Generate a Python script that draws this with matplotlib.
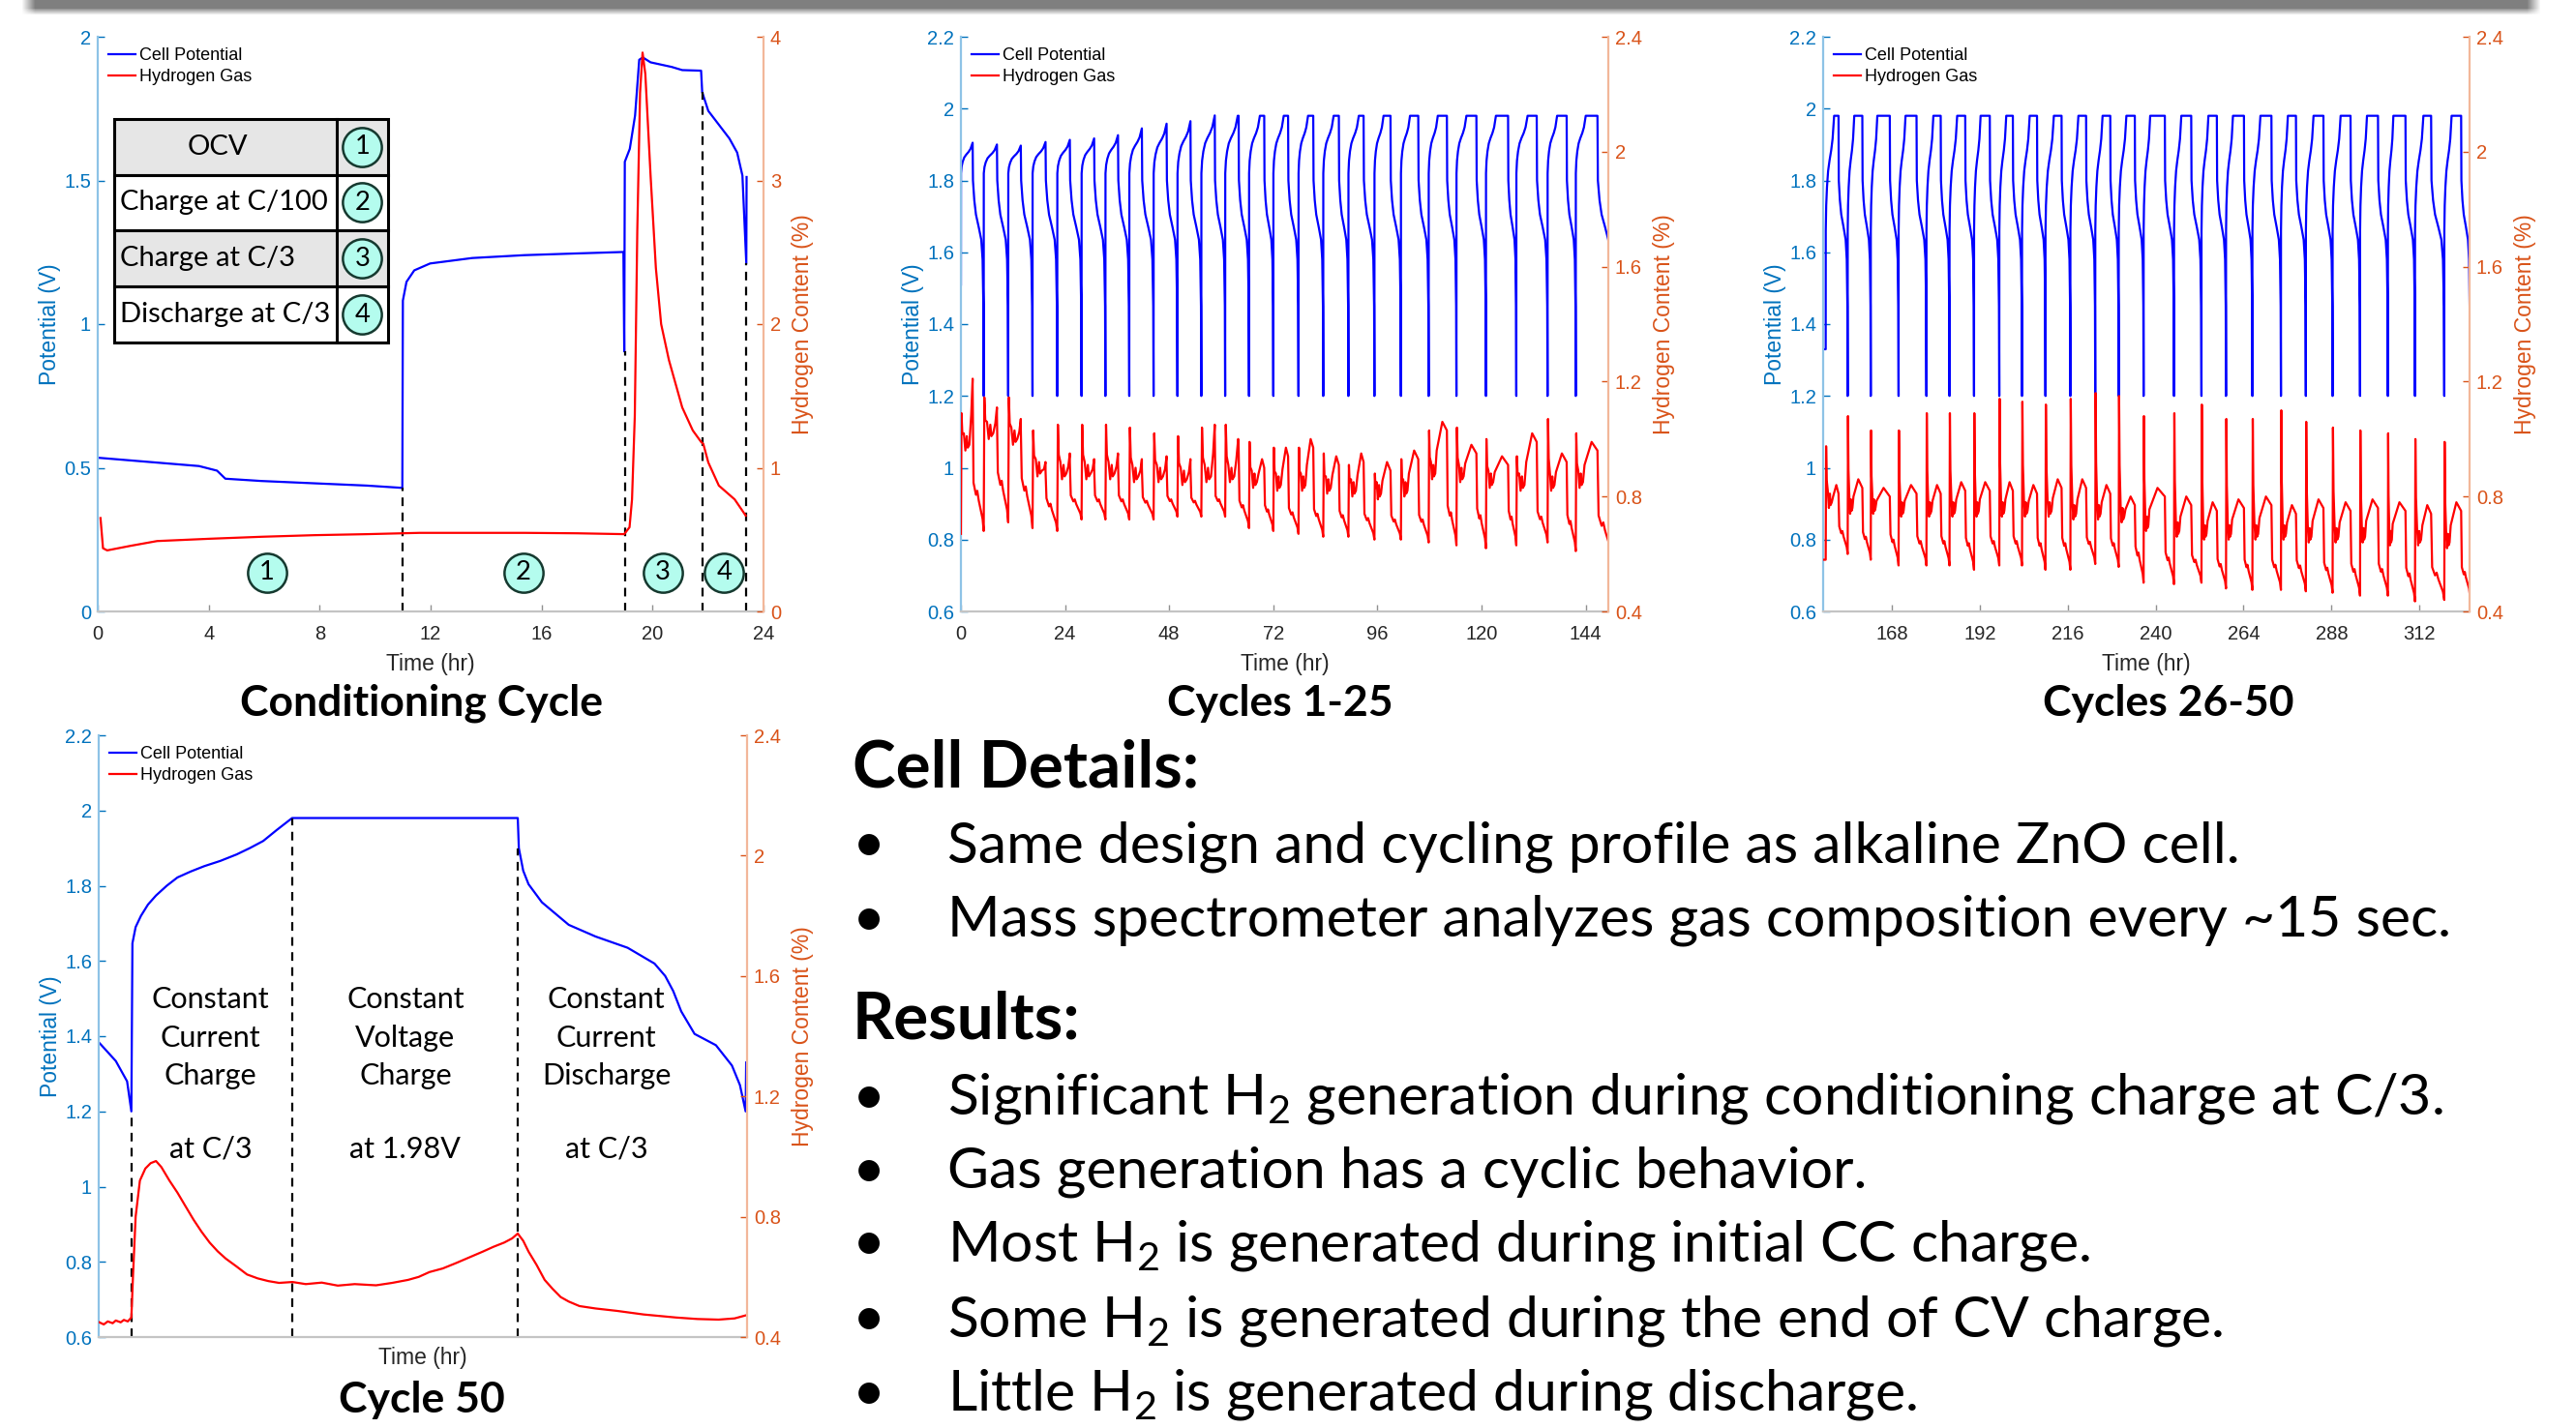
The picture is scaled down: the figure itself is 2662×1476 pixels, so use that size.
import numpy as np
import matplotlib
matplotlib.use('Agg')
import matplotlib.pyplot as plt
import matplotlib.font_manager as fm
from matplotlib.patches import Rectangle
from matplotlib.lines import Line2D

W, H = 2662, 1476
DPI = 100

avail = {f.name for f in fm.fontManager.ttflist}


def pick(*names):
    for n in names:
        if n in avail:
            return n
    return 'DejaVu Sans'


SLIDE_FONT = pick('Lato', 'Open Sans', 'Noto Sans')
AXIS_FONT = pick('Liberation Sans', 'Arial', 'DejaVu Sans')
plt.rcParams['font.family'] = [SLIDE_FONT, 'DejaVu Sans']
plt.rcParams['mathtext.default'] = 'regular'

BLUE = '#0000ff'
RED = '#ff0000'
LBLUE = '#0072bd'
ORANGE = '#d95319'
DIP_V = 1.2

# ---------------- conditioning cycle ----------------
cond_tv = [0, 2.14, 3.65, 4.3, 4.6, 5.9, 7.8, 9.7, 10.98, 11.0, 11.13, 11.41, 11.98,
           13.5, 15.39, 17.28, 18.95, 18.98, 19.0, 19.18, 19.37, 19.52, 19.65, 19.93,
           20.69, 21.07, 21.75, 21.79, 22.01, 22.77, 23.05, 23.24, 23.38, 23.39]
cond_v = [0.535, 0.518, 0.506, 0.49, 0.462, 0.454, 0.446, 0.438, 0.43, 1.082, 1.147,
          1.187, 1.211, 1.23, 1.24, 1.246, 1.251, 0.905, 1.565, 1.61, 1.726, 1.92, 1.928,
          1.911, 1.895, 1.884, 1.882, 1.807, 1.742, 1.646, 1.597, 1.517, 1.211, 1.512]
cond_th = [0.1, 0.19, 0.34, 1.19, 2.14, 4.03, 5.93, 7.82, 9.71, 11.6, 13.5, 15.39, 17.28,
           18.98, 19.17, 19.26, 19.36, 19.45, 19.55, 19.64, 19.74, 19.93, 20.12, 20.31,
           20.59, 21.07, 21.45, 21.75, 21.83, 22.01, 22.39, 22.96, 23.36]
cond_h = [0.65, 0.44, 0.425, 0.457, 0.49, 0.506, 0.52, 0.531, 0.538, 0.547, 0.547, 0.547,
          0.544, 0.538, 0.586, 0.78, 1.36, 2.65, 3.61, 3.89, 3.74, 3.03, 2.39, 2.0, 1.75,
          1.42, 1.26, 1.18, 1.166, 1.037, 0.876, 0.78, 0.667]
cond_steps = [11.0, 19.0, 21.79, 23.38]
cond_step_v = [0.43, 0.905, 1.807, 1.211]
cond_labels = ['1', '2', '3', '4']
cond_label_t = [6.1, 15.35, 20.37, 22.58]
table_rows = ['OCV', 'Charge at C/100', 'Charge at C/3', 'Discharge at C/3']

# ---------------- cycles 1-25 ----------------
c1_start = [0, 5.25, 10.9, 16.5, 22.2, 27.8, 33.3, 38.8, 44.4, 49.9, 55.4, 60.9, 66.4,
            72.0, 77.8, 83.5, 89.3, 95.3, 101.4, 107.8, 114.2, 121.0, 128.0, 135.2, 141.7]
c1_cv_on = [2.7, 8.3, 13.8, 19.5, 25.1, 30.7, 36.2, 41.7, 47.4, 52.9, 58.5, 63.8, 68.9,
            74.4, 80.0, 85.9, 91.7, 97.4, 103.5, 109.9, 116.5, 123.3, 130.6, 137.4, 144.0]
c1_cv_off = [2.7, 8.3, 13.8, 19.5, 25.1, 30.7, 36.2, 41.7, 47.4, 52.9, 58.5, 64.0, 69.9,
             75.4, 81.2, 87.1, 92.8, 99.0, 105.4, 112.0, 118.8, 126.1, 132.7, 139.6, 146.7]
c1_vpk = [1.905, 1.90, 1.897, 1.907, 1.913, 1.917, 1.926, 1.945, 1.958, 1.965, 1.981, 1.98,
          1.98, 1.98, 1.98, 1.98, 1.98, 1.98, 1.98, 1.98, 1.98, 1.98, 1.98, 1.98, 1.98]
c1_hpk = [1.09, 1.145, 1.145, 1.03, 1.05, 1.05, 1.05, 1.04, 1.02, 1.01, 1.04, 1.05, 0.99,
          0.97, 0.97, 0.95, 0.91, 0.88, 0.93, 1.03, 1.04, 1.00, 0.94, 1.07, 1.02]
c1_hmid = [0.96, 1.00, 0.98, 0.87, 0.86, 0.86, 0.86, 0.85, 0.85, 0.84, 0.85, 0.85, 0.83,
           0.82, 0.82, 0.81, 0.80, 0.79, 0.80, 0.86, 0.85, 0.83, 0.82, 0.82, 0.83]
c1_hbump = [1.21, 1.11, 1.07, 0.92, 0.95, 0.93, 0.95, 0.93, 0.94, 0.93, 1.05, 1.00, 0.93,
            0.97, 1.00, 0.94, 0.95, 0.92, 0.96, 1.06, 0.98, 0.94, 1.02, 0.95, 0.99]
c1_hmin = [0.68, 0.71, 0.69, 0.68, 0.72, 0.72, 0.72, 0.72, 0.73, 0.73, 0.73, 0.69, 0.68,
           0.67, 0.66, 0.66, 0.65, 0.65, 0.64, 0.63, 0.62, 0.63, 0.64, 0.61, 0.59]

# ---------------- cycles 26-50 ----------------
c2_start = [149.9, 155.9, 162.2, 169.8, 177.4, 183.7, 190.4, 197.3, 203.5, 209.9, 216.7,
            223.5, 229.9, 236.7, 245.0, 252.5, 259.2, 266.4, 274.2, 281.0, 288.3, 295.8,
            303.4, 310.8, 318.8]
c2_cv_on = [152.2, 157.7, 164.0, 171.7, 179.3, 185.8, 192.2, 199.2, 205.6, 212.2, 218.9,
            225.5, 232.0, 238.5, 247.0, 254.4, 261.1, 268.6, 276.1, 283.1, 290.5, 297.7,
            304.9, 313.1, 320.8]
c2_cv_off = [153.4, 159.9, 167.4, 174.7, 181.3, 188.0, 194.7, 201.0, 207.6, 214.3, 221.0,
             227.6, 234.3, 242.5, 249.7, 256.7, 264.1, 271.6, 278.3, 285.8, 293.2, 300.7,
             308.2, 315.2, 323.4]
c2_vpk = [1.98] * 25
c2_hpk = [0.975, 1.08, 1.03, 1.03, 1.09, 1.09, 1.09, 1.14, 1.13, 1.12, 1.14, 1.16, 1.15,
          1.08, 1.09, 1.12, 1.07, 1.07, 1.10, 1.06, 1.04, 1.03, 1.02, 1.00, 0.99]
c2_hmid = [0.76, 0.74, 0.74, 0.73, 0.73, 0.73, 0.73, 0.73, 0.73, 0.73, 0.72, 0.72, 0.71,
           0.68, 0.66, 0.65, 0.65, 0.65, 0.65, 0.64, 0.64, 0.64, 0.63, 0.63, 0.62]
c2_hbump = [0.84, 0.86, 0.83, 0.84, 0.84, 0.85, 0.85, 0.85, 0.84, 0.86, 0.86, 0.84, 0.80,
            0.83, 0.80, 0.78, 0.79, 0.80, 0.77, 0.79, 0.78, 0.79, 0.78, 0.77, 0.78]
c2_hmin = [0.60, 0.58, 0.56, 0.56, 0.56, 0.545, 0.56, 0.56, 0.545, 0.545, 0.565, 0.555,
           0.50, 0.495, 0.50, 0.48, 0.475, 0.475, 0.47, 0.465, 0.455, 0.455, 0.435, 0.44,
           0.455]

# cycle shape (fractions of each step, relative rise)
CHG_F = [0.007, 0.06, 0.153, 0.287, 0.453, 0.653, 0.82, 1.0]
CHG_S = [0.0, 0.22, 0.38, 0.52, 0.61, 0.70, 0.80, 1.0]
DIS_F = [0.03, 0.15, 0.3, 0.55, 0.78, 0.9, 0.97, 1.0]
DIS_V = [1.80, 1.745, 1.705, 1.67, 1.635, 1.58, 1.45, 1.2]

# ---------------- cycle 50 ----------------
c50_tv = [-0.367, -0.175, -0.048, 0.0, 0.012, 0.048, 0.108, 0.187, 0.277, 0.398, 0.518,
          0.669, 0.819, 1.0, 1.181, 1.331, 1.482, 1.633, 1.807, 4.343, 4.355, 4.404, 4.464,
          4.614, 4.916, 5.217, 5.578, 5.88, 6.0, 6.09, 6.18, 6.33, 6.57, 6.75, 6.84, 6.904,
          6.91]
c50_v = [1.384, 1.334, 1.28, 1.2, 1.647, 1.69, 1.72, 1.75, 1.774, 1.80, 1.822, 1.838,
         1.852, 1.866, 1.883, 1.90, 1.919, 1.948, 1.98, 1.98, 1.90, 1.84, 1.804, 1.756,
         1.696, 1.665, 1.635, 1.593, 1.56, 1.52, 1.466, 1.406, 1.376, 1.322, 1.27, 1.2, 1.33]
c50_th = [-0.367, -0.31, -0.265, -0.21, -0.175, -0.12, -0.084, -0.04, 0.0, 0.018, 0.048,
          0.096, 0.157, 0.217, 0.277, 0.337, 0.428, 0.518, 0.608, 0.699, 0.789, 0.88, 0.97,
          1.06, 1.18, 1.30, 1.42, 1.54, 1.66, 1.81, 1.96, 2.14, 2.32, 2.51, 2.75, 2.93, 3.11,
          3.23, 3.35, 3.50, 3.65, 3.80, 3.95, 4.07, 4.19, 4.28, 4.343, 4.404, 4.464, 4.554,
          4.645, 4.735, 4.825, 4.916, 5.036, 5.217, 5.458, 5.759, 5.94, 6.12, 6.36, 6.60,
          6.78, 6.904]
c50_h = [0.45, 0.442, 0.452, 0.446, 0.455, 0.449, 0.457, 0.452, 0.465, 0.60, 0.80, 0.92,
         0.96, 0.978, 0.985, 0.965, 0.92, 0.88, 0.835, 0.79, 0.75, 0.714, 0.685, 0.661,
         0.635, 0.608, 0.595, 0.586, 0.58, 0.583, 0.576, 0.581, 0.571, 0.576, 0.572, 0.58,
         0.59, 0.60, 0.616, 0.628, 0.646, 0.665, 0.684, 0.70, 0.714, 0.728, 0.744, 0.72,
         0.684, 0.64, 0.59, 0.56, 0.533, 0.518, 0.503, 0.495, 0.487, 0.475, 0.47, 0.465,
         0.46, 0.458, 0.462, 0.472]
c50_steps = [0.0, 1.807, 4.343]
c50_step_v = [1.2, 1.98, 1.90]
c50_phase = ['Constant\nCurrent\nCharge', 'Constant\nVoltage\nCharge',
             'Constant\nCurrent\nDischarge']
c50_rate = ['at C/3', 'at 1.98V', 'at C/3']
c50_phase_t = [0.89, 3.08, 5.34]

details = ['Same design and cycling profile as alkaline ZnO cell.',
           'Mass spectrometer analyzes gas composition every ~15 sec.']
results = ['Significant H$_2$ generation during conditioning charge at C/3.',
           'Gas generation has a cyclic behavior.',
           'Most H$_2$ is generated during initial CC charge.',
           'Some H$_2$ is generated during the end of CV charge.',
           'Little H$_2$ is generated during discharge.']


def build_cycles(starts, cv_on, cv_off, vpk, hpk, hmid, hbump, hmin, t_end,
                 v_jump, v_first, h_first, t_pre):
    tv, vv, th, hh = [], [], [], []
    if t_pre is not None:
        tv.append(t_pre); vv.append(v_first)
        th.append(t_pre); hh.append(h_first)
    n = len(starts)
    for i in range(n):
        t0, t1, t2 = starts[i], cv_on[i], cv_off[i]
        t3 = starts[i + 1] if i + 1 < n else t_end
        dc, dd = t1 - t0, t3 - t2
        tv.append(t0); vv.append(v_first if i == 0 else DIP_V)
        for f, s in zip(CHG_F, CHG_S):
            tv.append(t0 + f * dc); vv.append(v_jump + s * (vpk[i] - v_jump))
        tv.append(t2); vv.append(vpk[i])
        for f, v in zip(DIS_F, DIS_V):
            tv.append(t2 + f * dd); vv.append(min(v, vpk[i]))

        pk, md, bp, mn = hpk[i], hmid[i], hbump[i], hmin[i]
        h0 = h_first if i == 0 else hmin[i - 1]
        span = md - mn
        th += [t0, t0 + 0.05 * dc, t0 + 0.12 * dc, t0 + 0.25 * dc, t0 + 0.38 * dc,
               t0 + 0.5 * dc, t0 + 0.58 * dc, t0 + 0.72 * dc, t0 + 0.88 * dc,
               0.5 * (t1 + t2), t2,
               t2 + 0.08 * dd, t2 + 0.3 * dd, t2 + 0.42 * dd, t2 + 0.55 * dd,
               t2 + 0.75 * dd, t2 + 0.9 * dd, t3]
        hh += [h0, pk, md + 0.45 * (pk - md), md + 0.06, md, md + 0.05, md + 0.01,
               md + 0.02, md + 0.5 * (bp - md), bp, bp - 0.03,
               mn + 0.6 * span, mn + 0.45 * span, mn + 0.5 * span, mn + 0.38 * span,
               mn + 0.25 * span, mn + 0.15 * span, mn]
    return tv, vv, th, hh


fig = plt.figure(figsize=(W / DPI, H / DPI), dpi=DPI)


def add_axes_px(l, t, r, b):
    return fig.add_axes([l / W, 1 - b / H, (r - l) / W, (b - t) / H])


def fmt(v):
    return '%g' % v


def style(ax, ax2, xt, yl, yr):
    for s in ['top', 'right']:
        ax.spines[s].set_visible(False)
    for s in ['top', 'left', 'bottom']:
        ax2.spines[s].set_visible(False)
    ax.spines['left'].set_color('#8ec3e6')
    ax2.spines['right'].set_color('#f2b79a')
    ax.spines['bottom'].set_color('#c4c4c4')
    for sp in [ax.spines['left'], ax2.spines['right'], ax.spines['bottom']]:
        sp.set_linewidth(1.6)
    ax.set_yticks(yl, [fmt(v) for v in yl], fontfamily=AXIS_FONT, fontsize=14.5)
    ax2.set_yticks(yr, [fmt(v) for v in yr], fontfamily=AXIS_FONT, fontsize=14.5)
    ax.set_ylim(yl[0], yl[-1])
    ax2.set_ylim(yr[0], yr[-1])
    if xt:
        ax.set_xticks(xt, [fmt(v) for v in xt], fontfamily=AXIS_FONT, fontsize=14.5)
    else:
        ax.set_xticks([])
    ax.tick_params(axis='y', direction='in', colors=LBLUE, length=5, width=1, pad=5)
    ax2.tick_params(axis='y', direction='in', colors=ORANGE, length=5, width=1, pad=5)
    ax.tick_params(axis='x', direction='in', color='#909090', labelcolor='#262626',
                   length=5, width=1, pad=10)
    ax.set_ylabel('Potential (V)', color=LBLUE, fontfamily=AXIS_FONT, fontsize=16.5,
                  labelpad=2)
    ax2.set_ylabel('Hydrogen Content (%)', color=ORANGE, fontfamily=AXIS_FONT,
                   fontsize=16.5, labelpad=8)
    ax.set_xlabel('Time (hr)', color='#262626', fontfamily=AXIS_FONT, fontsize=16.5,
                  labelpad=7)
    ax.patch.set_visible(False)
    handles = [Line2D([], [], color=BLUE, lw=1.6), Line2D([], [], color=RED, lw=1.6)]
    ax2.legend(handles, ['Cell Potential', 'Hydrogen Gas'], loc='upper left',
               frameon=False, prop={'family': AXIS_FONT, 'size': 13},
               handlelength=1.55, handletextpad=0.25, labelspacing=0.28,
               borderaxespad=0.3, borderpad=0.3)


def circled(ax, x, y, s, size):
    ax.plot(x, y, 'o', ms=size, mfc='#b4fcee', mec='#15392f', mew=1.8, zorder=6)
    ax.text(x, y, s, ha='center', va='center', fontsize=size * 0.68, zorder=7,
            color='black')


# ---- panel 1: conditioning ----
ax1 = add_axes_px(101, 38, 789, 632)
ax1b = ax1.twinx()
ax1.set_xlim(0, 24)
ax1.plot(cond_tv, cond_v, color=BLUE, lw=1.6)
ax1b.plot(cond_th, cond_h, color=RED, lw=1.6)
for t, v in zip(cond_steps, cond_step_v):
    ax1.plot([t, t], [0, v], color='black', lw=1.6, ls=(0, (4, 3)))
style(ax1, ax1b, list(range(0, 25, 4)), [0, 0.5, 1, 1.5, 2], [0, 1, 2, 3, 4])
for t, s in zip(cond_label_t, cond_labels):
    circled(ax1, t, 0.135, s, 29)

row_v = [1.715, 1.52, 1.327, 1.13, 0.936]
for k, txt in enumerate(table_rows):
    fill = '#e6e6e6' if k % 2 == 0 else 'white'
    ax1.add_patch(Rectangle((0.59, row_v[k + 1]), 10.47 - 0.59, row_v[k] - row_v[k + 1],
                            facecolor=fill, edgecolor='black', lw=2.2, zorder=4))
    yc = 0.5 * (row_v[k] + row_v[k + 1])
    if k == 0:
        ax1.text(4.32, yc, txt, ha='center', va='center', fontsize=21, zorder=5)
    else:
        ax1.text(0.8, yc, txt, ha='left', va='center', fontsize=21, zorder=5)
    circled(ax1, 9.54, yc, str(k + 1), 29)
ax1.plot([8.63, 8.63], [row_v[-1], row_v[0]], color='black', lw=2.2, zorder=5)

# ---- panel 2: cycles 1-25 ----
ax2 = add_axes_px(993, 38, 1662, 632)
ax2b = ax2.twinx()
tv, vv, th, hh = build_cycles(c1_start, c1_cv_on, c1_cv_off, c1_vpk, c1_hpk, c1_hmid,
                              c1_hbump, c1_hmin, 149.9, 1.82, 1.51, 0.67, None)
ax2.plot(tv, vv, color=BLUE, lw=1.6)
ax2b.plot(th, hh, color=RED, lw=1.6)
ax2.set_xlim(0, 149.2)
style(ax2, ax2b, list(range(0, 145, 24)), [0.6, 0.8, 1, 1.2, 1.4, 1.6, 1.8, 2, 2.2],
      [0.4, 0.8, 1.2, 1.6, 2, 2.4])

# ---- panel 3: cycles 26-50 ----
ax3 = add_axes_px(1884, 38, 2552, 632)
ax3b = ax3.twinx()
tv, vv, th, hh = build_cycles(c2_start, c2_cv_on, c2_cv_off, c2_vpk, c2_hpk, c2_hmid,
                              c2_hbump, c2_hmin, 325.8, 1.66, 1.33, 0.58, 149.2)
ax3.plot(tv, vv, color=BLUE, lw=1.6)
ax3b.plot(th, hh, color=RED, lw=1.6)
ax3.set_xlim(149.2, 325.7)
style(ax3, ax3b, list(range(168, 313, 24)), [0.6, 0.8, 1, 1.2, 1.4, 1.6, 1.8, 2, 2.2],
      [0.4, 0.8, 1.2, 1.6, 2, 2.4])

# ---- panel 4: cycle 50 ----
ax4 = add_axes_px(102, 760, 772, 1382)
ax4b = ax4.twinx()
ax4.plot(c50_tv, c50_v, color=BLUE, lw=1.6)
ax4b.plot(c50_th, c50_h, color=RED, lw=1.6)
for t, v in zip(c50_steps, c50_step_v):
    ax4.plot([t, t], [0.6, v], color='black', lw=1.6, ls=(0, (4, 3)))
ax4.set_xlim(-0.367, 6.92)
style(ax4, ax4b, None, [0.6, 0.8, 1, 1.2, 1.4, 1.6, 1.8, 2, 2.2],
      [0.4, 0.8, 1.2, 1.6, 2, 2.4])
for t, ph, rt in zip(c50_phase_t, c50_phase, c50_rate):
    ax4.text(t, 1.395, ph, ha='center', va='center', fontsize=22, linespacing=1.5)
    ax4.text(t, 1.10, rt, ha='center', va='center', fontsize=22)

# ---- panel captions ----
for x, y, s in [(436, 740, 'Conditioning Cycle'), (1323, 740, 'Cycles 1-25'),
                (2241, 740, 'Cycles 26-50'), (436, 1460, 'Cycle 50')]:
    fig.text(x / W, 1 - y / H, s, ha='center', va='baseline', fontsize=32,
             fontweight='bold')

# ---- text block ----
FS = 42.4
HFS = 48.5
fig.text(881 / W, 1 - 814 / H, 'Cell Details:', fontsize=HFS, fontweight='bold',
         va='baseline')
for y, s in zip([891, 968], details):
    fig.text(881 / W, 1 - y / H, '\u2022', fontsize=FS, va='baseline')
    fig.text(979 / W, 1 - y / H, s, fontsize=FS, va='baseline')
fig.text(881 / W, 1 - 1074 / H, 'Results:', fontsize=HFS, fontweight='bold',
         va='baseline')
for y, s in zip([1152, 1228, 1303, 1381, 1458], results):
    fig.text(881 / W, 1 - y / H, '\u2022', fontsize=FS, va='baseline')
    fig.text(979 / W, 1 - y / H, s, fontsize=FS, va='baseline')

# ---- slide shadow along the top ----
sh = fig.add_axes([0, 1 - 16 / H, 1, 16 / H])
sh.axis('off')
rows = np.concatenate([np.full(9, 1.0), np.linspace(0.8, 0.0, 7)])
cols = np.clip((np.arange(W) - 22) / 14, 0, 1) * np.clip((2625 - np.arange(W)) / 14, 0, 1)
alpha = rows[:, None] * cols[None, :]
img = np.zeros((16, W, 4))
img[..., :3] = 0.5
img[..., 3] = alpha
sh.imshow(img, aspect='auto', extent=[0, 1, 0, 1], interpolation='bilinear')
sh.set_xlim(0, 1)
sh.set_ylim(0, 1)

fig.savefig('out.png', dpi=DPI)
